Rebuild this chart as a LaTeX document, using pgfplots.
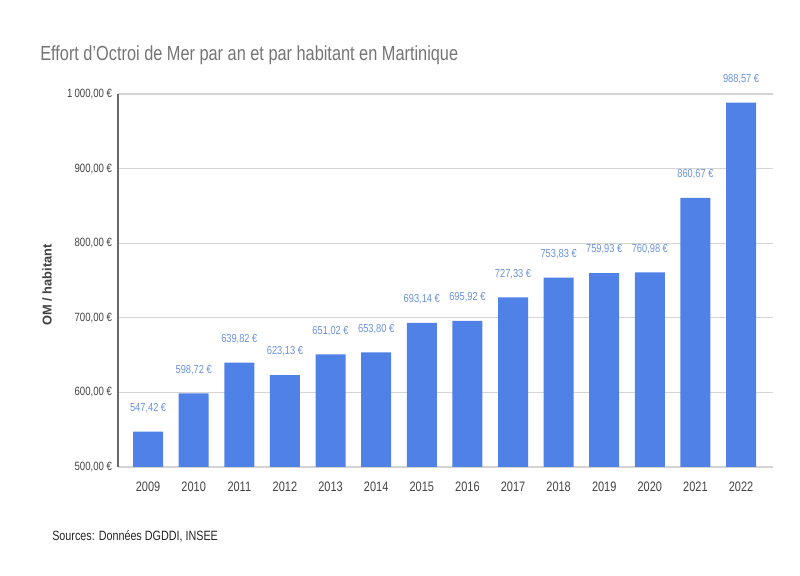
\documentclass[border=0pt]{standalone}
\usepackage{pgfplots}
\pgfplotsset{compat=1.18}
\usepackage{pgfplotstable}
\usepackage{fontspec}
\setmainfont{Liberation Sans}[FakeStretch=0.8]
\newfontfamily\widefont{Liberation Sans}
\definecolor{barblue}{HTML}{4F81E6}
\definecolor{lblblue}{HTML}{6A92DE}
\definecolor{tickgray}{HTML}{444444}
\definecolor{gridgray}{HTML}{D4D4D4}
\definecolor{titlegray}{HTML}{757575}
\pgfplotstableread{
x y lab
0 547.42 {547,42 €}
1 598.72 {598,72 €}
2 639.82 {639,82 €}
3 623.13 {623,13 €}
4 651.02 {651,02 €}
5 653.80 {653,80 €}
6 693.14 {693,14 €}
7 695.92 {695,92 €}
8 727.33 {727,33 €}
9 753.83 {753,83 €}
10 759.93 {759,93 €}
11 760.98 {760,98 €}
12 860.67 {860,67 €}
13 988.57 {988,57 €}
}\data
\begin{document}
\begin{tikzpicture}
\path (0,0) rectangle (600pt,431.25pt);
\node[anchor=base west, font=\fontsize{15.3}{18}\selectfont, text=titlegray, inner sep=0pt] at (30pt,386pt) {Effort d'Octroi de Mer par an et par habitant en Martinique};
\node[anchor=base west, font=\fontsize{10.1}{12}\selectfont, text=black!85, inner sep=0pt] at (39pt,25.5pt) {Sources: Données DGDDI, INSEE};
\node[rotate=90, font=\widefont\bfseries\fontsize{9.6}{12}\selectfont, text=black!75, inner sep=0pt] at (35.25pt,217.5pt) {OM / habitant};
\begin{axis}[
  at={(88.5pt,81pt)}, anchor=south west,
  scale only axis, width=491.25pt, height=279.75pt,
  ybar, bar width=22.5pt,
  xmin=-0.66, xmax=13.7, ymin=500, ymax=1000,
  xtick=data,
  xticklabels={2009,2010,2011,2012,2013,2014,2015,2016,2017,2018,2019,2020,2021,2022},
  ytick={500,600,700,800,900,1000},
  yticklabels={{500,00 €},{600,00 €},{700,00 €},{800,00 €},{900,00 €},{1\,000,00 €}},
  major tick length=0pt,
  ymajorgrids, grid style={gridgray, line width=0.8pt},
  axis x line*=bottom, axis y line*=left,
  x axis line style={gridgray, line width=0.8pt, -},
  y axis line style={tickgray!80, line width=0.8pt, -},
  yticklabel style={font=\fontsize{9}{10}\selectfont, text=tickgray, xshift=-1pt},
  xticklabel style={font=\fontsize{10.3}{12}\selectfont, text=tickgray, yshift=-8pt},
  point meta=explicit symbolic,
  nodes near coords,
  nodes near coords style={font=\fontsize{8.7}{10}\selectfont, text=lblblue, anchor=south, yshift=10.5pt},
  clip=false,
]
\addplot[fill=barblue, draw=none] table[x=x, y=y, meta=lab] {\data};
\end{axis}
\end{tikzpicture}
\end{document}
